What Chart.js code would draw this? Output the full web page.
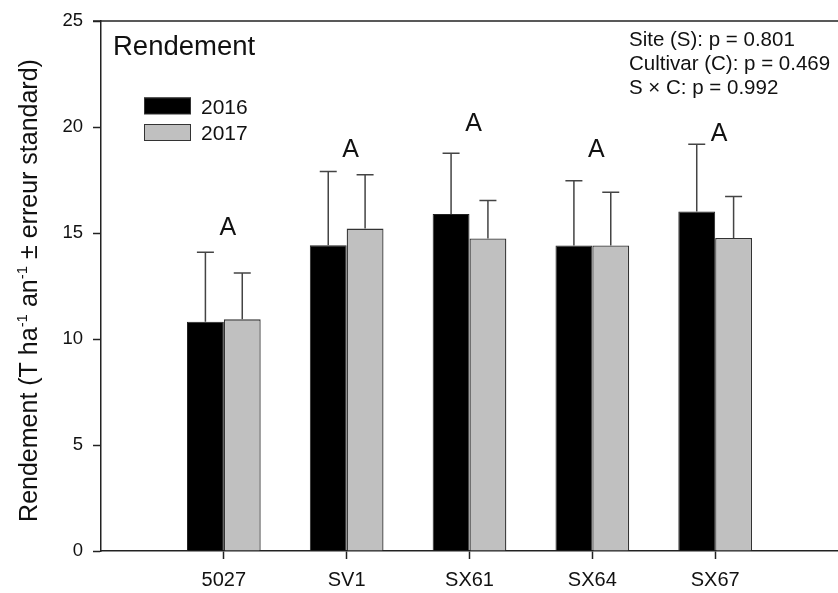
<!DOCTYPE html>
<html><head><meta charset="utf-8">
<script src="https://cdn.jsdelivr.net/npm/chart.js@4"></script>
<style>html,body{margin:0;padding:0;background:#fff}#wrap{width:838px;height:593px}</style>
</head><body><div id="wrap"><canvas id="c" width="838" height="593"></canvas></div>
<script>
const categories = ['5027','SV1','SX61','SX64','SX67'];
const years = ['2016','2017'];
const yield2016 = [10.81,14.43,15.90,14.41,16.02];
const yield2017 = [10.93,15.21,14.74,14.41,14.77];
const se2016 = [3.29,3.47,2.87,3.06,3.17];
const se2017 = [2.19,2.54,1.80,2.52,1.96];
const letters = ['A','A','A','A','A'];
const letterLevel = [14.93,18.61,19.83,18.61,19.35];
const yTicks = [0,5,10,15,20,25];
const panelTitle = 'Rendement';
const stats = ['Site (S): p = 0.801','Cultivar (C): p = 0.469','S \u00d7 C: p = 0.992'];
const yTitleParts = [
  {t:'Rendement (T ha'},{t:'-1',sup:true},{t:' an'},{t:'-1',sup:true},{t:' \u00b1 erreur standard)'}
];

const FONT = "'Liberation Sans', Arial, sans-serif";
Chart.defaults.font.family = FONT;
Chart.defaults.color = '#111';

const errors = [se2016, se2017];

const overlay = {
  id:'overlay',
  afterDatasetsDraw(chart){
    const ctx = chart.ctx, ys = chart.scales.y, xs = chart.scales.x, ca = chart.chartArea;
    ctx.save();
    // error bars
    chart.data.datasets.forEach((ds, di) => {
      const meta = chart.getDatasetMeta(di);
      meta.data.forEach((el, i) => {
        const v = ds.data[i].y, e = errors[di][i];
        const yt = ys.getPixelForValue(v + e);
        ctx.strokeStyle = '#444'; ctx.lineWidth = 1.5;
        ctx.beginPath();
        ctx.moveTo(el.x, el.y); ctx.lineTo(el.x, yt);
        ctx.moveTo(el.x - 8.5, yt); ctx.lineTo(el.x + 8.5, yt);
        ctx.stroke();
      });
    });
    // letters
    ctx.fillStyle = '#111';
    ctx.font = '25px ' + FONT;
    ctx.textAlign = 'center'; ctx.textBaseline = 'alphabetic';
    letters.forEach((l, i) => {
      ctx.fillText(l, xs.getPixelForValue(i + 1) + 4, ys.getPixelForValue(letterLevel[i]));
    });
    // top border
    ctx.strokeStyle = '#222'; ctx.lineWidth = 1.5;
    ctx.beginPath(); ctx.moveTo(ca.left - 8, ca.top); ctx.lineTo(ca.right, ca.top); ctx.stroke();
    // panel title
    ctx.textAlign = 'left';
    ctx.font = '27.5px ' + FONT;
    ctx.fillText(panelTitle, 113, 55);
    // stats
    ctx.font = '20.5px ' + FONT;
    stats.forEach((s, i) => ctx.fillText(s, 629, 46 + i * 24));
    // legend
    chart.data.datasets.forEach((ds, di) => {
      const y0 = 97.5 + di * 26.5;
      ctx.fillStyle = ds.backgroundColor;
      ctx.fillRect(144, y0, 47, 16.5);
      ctx.strokeStyle = '#333'; ctx.lineWidth = 1;
      ctx.strokeRect(144.5, y0 + 0.5, 46, 16);
      ctx.fillStyle = '#111';
      ctx.font = '21px ' + FONT;
      ctx.fillText(ds.label, 201, y0 + 16);
    });
    // y title with superscripts
    ctx.translate(37, 290.5);
    ctx.rotate(-Math.PI / 2);
    const big = '25px ' + FONT, small = '15px ' + FONT;
    let total = 0;
    yTitleParts.forEach(p => { ctx.font = p.sup ? small : big; total += ctx.measureText(p.t).width; });
    let x = -total / 2;
    yTitleParts.forEach(p => {
      ctx.font = p.sup ? small : big;
      ctx.fillText(p.t, x, p.sup ? -10 : 0);
      x += ctx.measureText(p.t).width;
    });
    ctx.restore();
  }
};

new Chart(document.getElementById('c'), {
  type: 'bar',
  data: {
    datasets: [
      { label: years[0], data: yield2016.map((v, i) => ({x: i + 1, y: v})), backgroundColor: '#000000', borderColor: '#222', borderWidth: 1 },
      { label: years[1], data: yield2017.map((v, i) => ({x: i + 1, y: v})), backgroundColor: '#c0c0c0', borderColor: '#333', borderWidth: 1.3 }
    ]
  },
  options: {
    responsive: false,
    animation: false,
    devicePixelRatio: 1,
    categoryPercentage: 0.6,
    barPercentage: 1.0,
    layout: { padding: { top: 19, right: 0, left: 0, bottom: 0 } },
    plugins: { legend: { display: false }, tooltip: { enabled: false } },
    scales: {
      x: {
        type: 'linear', min: 0, max: 6, offset: false,
        afterBuildTicks: s => { s.ticks = categories.map((c, i) => ({ value: i + 1 })); },
        afterFit: s => { s.height = 42; },
        ticks: { callback: v => categories[v - 1] ?? '', font: { size: 20 }, padding: 9, color: '#111', maxRotation: 0, autoSkip: false },
        grid: { offset: false, drawOnChartArea: false, tickLength: 8, color: '#222', tickWidth: 1.5 },
        border: { color: '#222', width: 1.5 }
      },
      y: {
        min: 0, max: 25,
        afterBuildTicks: s => { s.ticks = yTicks.map(v => ({ value: v })); },
        afterFit: s => { s.width = 101; },
        ticks: { font: { size: 18.5 }, padding: 10, color: '#111' },
        grid: { drawOnChartArea: false, tickLength: 8, color: '#222', tickWidth: 1.5 },
        border: { color: '#222', width: 1.5 }
      }
    }
  },
  plugins: [overlay]
});
</script>
</body></html>
